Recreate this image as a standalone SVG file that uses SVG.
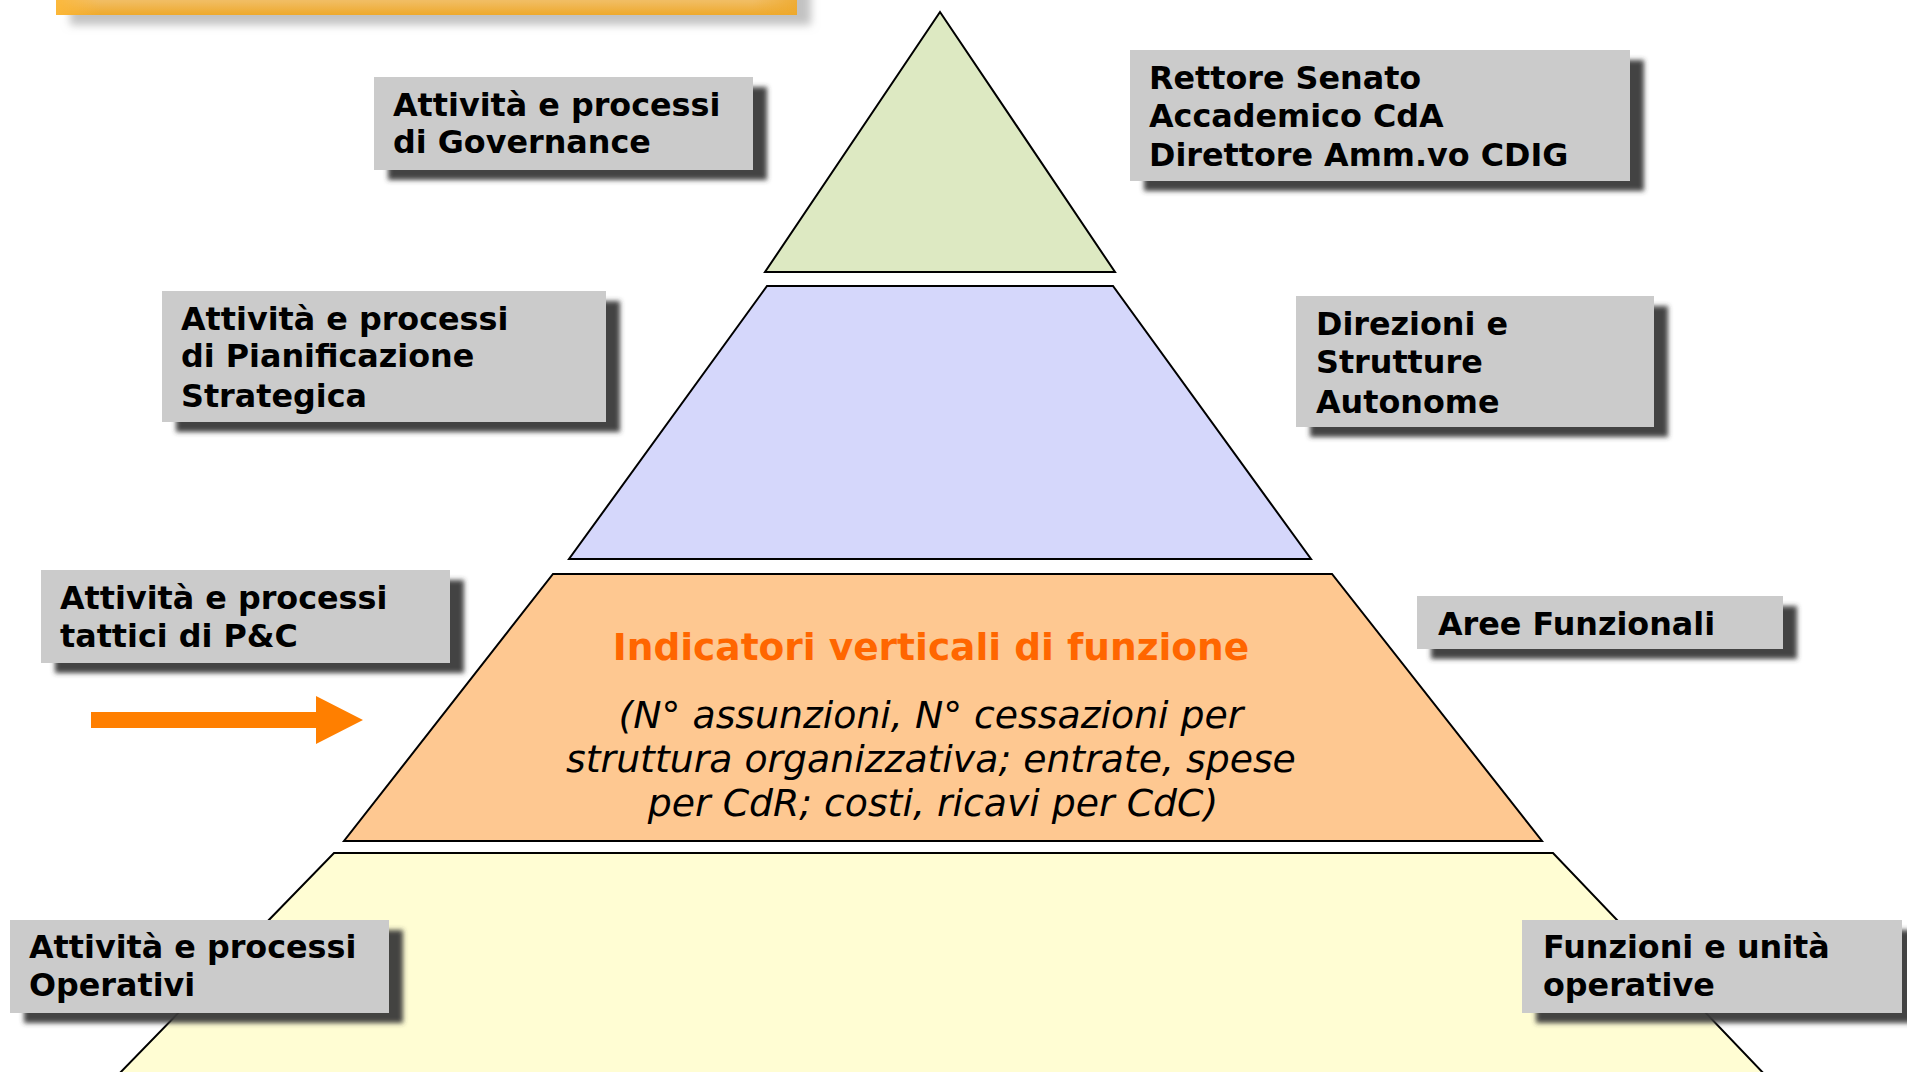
<svg xmlns="http://www.w3.org/2000/svg" width="1907" height="1072" viewBox="0 0 1907 1072">
<defs>
  <filter id="boxShadow" x="-10%" y="-20%" width="130%" height="160%">
    <feGaussianBlur in="SourceAlpha" stdDeviation="2.5"/>
    <feOffset dx="14" dy="10" result="off"/>
    <feFlood flood-color="#3a3a3a" flood-opacity="0.95"/>
    <feComposite in2="off" operator="in"/>
    <feMerge><feMergeNode/><feMergeNode in="SourceGraphic"/></feMerge>
  </filter>
  <filter id="barShadow" x="-5%" y="-50%" width="110%" height="300%">
    <feGaussianBlur in="SourceAlpha" stdDeviation="4"/>
    <feOffset dx="14" dy="10" result="off"/>
    <feFlood flood-color="#9a9a9a" flood-opacity="0.6"/>
    <feComposite in2="off" operator="in"/>
    <feMerge><feMergeNode/><feMergeNode in="SourceGraphic"/></feMerge>
  </filter>
  <linearGradient id="barGrad" x1="0" y1="0" x2="0" y2="1">
    <stop offset="0" stop-color="#f4c98a"/>
    <stop offset="0.6" stop-color="#f1bd63"/>
    <stop offset="1" stop-color="#eea92c"/>
  </linearGradient>
  <linearGradient id="barEdge" x1="0" y1="0" x2="1" y2="0">
    <stop offset="0" stop-color="#fdb838" stop-opacity="0.9"/>
    <stop offset="0.06" stop-color="#fdb838" stop-opacity="0"/>
    <stop offset="0.94" stop-color="#eea92c" stop-opacity="0"/>
    <stop offset="1" stop-color="#eea92c" stop-opacity="0.8"/>
  </linearGradient>
  <style>
    .layer { stroke: #000; stroke-width: 2; stroke-linejoin: miter; }
    .box { fill: #cbcbcb; filter: url(#boxShadow); }
    .lbl { font-family: "DejaVu Sans", Verdana, sans-serif; font-weight: bold; font-size: 31.8px; fill: #000; }
    .title { font-family: "DejaVu Sans", Verdana, sans-serif; font-weight: bold; font-size: 37.5px; fill: #ff6600; }
    .ital { font-family: "DejaVu Sans", Verdana, sans-serif; font-style: italic; font-size: 37.8px; fill: #000; }
  </style>
</defs>

<rect x="0" y="0" width="1907" height="1072" fill="#ffffff"/>

<g id="top-bar" filter="url(#barShadow)">
  <rect x="56" y="-20" width="741" height="35" fill="url(#barGrad)"/>
  <rect x="56" y="-20" width="741" height="35" fill="url(#barEdge)"/>
</g>

<g id="pyramid">
  <polygon id="level-governance" class="layer" fill="#dde9c2" points="940,12 1115,272 765,272"/>
  <polygon id="level-strategic" class="layer" fill="#d5d7fb" points="767,286 1113,286 1311,559 569,559"/>
  <g id="level-tactical">
    <polygon class="layer" fill="#fec891" points="553,574 1332,574 1542,841 344,841"/>
    <text class="title" x="931" y="660" text-anchor="middle">Indicatori verticali di funzione</text>
    <text class="ital" text-anchor="middle">
      <tspan x="937" y="728">(N° assunzioni, N° cessazioni per</tspan>
      <tspan x="937" y="772">struttura organizzativa; entrate, spese</tspan>
      <tspan x="933" y="816">per CdR; costi, ricavi per CdC)</tspan>
    </text>
  </g>
  <polygon id="level-operational" class="layer" fill="#fffdd3" points="334,853 1553,853 1768,1078 115,1078"/>
</g>

<g id="connectors">
  <polygon id="arrow" fill="#ff7f00" points="91,712 316,712 316,696 363,720 316,744 316,728 91,728"/>
</g>

<g id="box-governance">
  <rect class="box" x="374" y="77" width="379" height="93"/>
  <text class="lbl"><tspan x="393" y="116">Attività e processi</tspan><tspan x="393" y="153">di Governance</tspan></text>
</g>

<g id="box-rettore">
  <rect class="box" x="1130" y="50" width="500" height="131"/>
  <text class="lbl"><tspan x="1149" y="89">Rettore Senato</tspan><tspan x="1149" y="127">Accademico CdA</tspan><tspan x="1149" y="166">Direttore Amm.vo CDIG</tspan></text>
</g>

<g id="box-pianificazione">
  <rect class="box" x="162" y="291" width="444" height="131"/>
  <text class="lbl"><tspan x="181" y="330">Attività e processi</tspan><tspan x="181" y="367">di Pianificazione</tspan><tspan x="181" y="407">Strategica</tspan></text>
</g>

<g id="box-direzioni">
  <rect class="box" x="1296" y="296" width="358" height="131"/>
  <text class="lbl"><tspan x="1316" y="335">Direzioni e</tspan><tspan x="1316" y="373">Strutture</tspan><tspan x="1316" y="413">Autonome</tspan></text>
</g>

<g id="box-tattici">
  <rect class="box" x="41" y="570" width="409" height="93"/>
  <text class="lbl"><tspan x="60" y="609">Attività e processi</tspan><tspan x="60" y="647">tattici di P&amp;C</tspan></text>
</g>

<g id="box-aree">
  <rect class="box" x="1417" y="596" width="366" height="53"/>
  <text class="lbl" x="1438" y="635">Aree Funzionali</text>
</g>

<g id="box-operativi">
  <rect class="box" x="10" y="920" width="379" height="93"/>
  <text class="lbl"><tspan x="29" y="958">Attività e processi</tspan><tspan x="29" y="996">Operativi</tspan></text>
</g>

<g id="box-funzioni">
  <rect class="box" x="1522" y="920" width="380" height="93"/>
  <text class="lbl"><tspan x="1543" y="958">Funzioni e unità</tspan><tspan x="1543" y="996">operative</tspan></text>
</g>
</svg>
